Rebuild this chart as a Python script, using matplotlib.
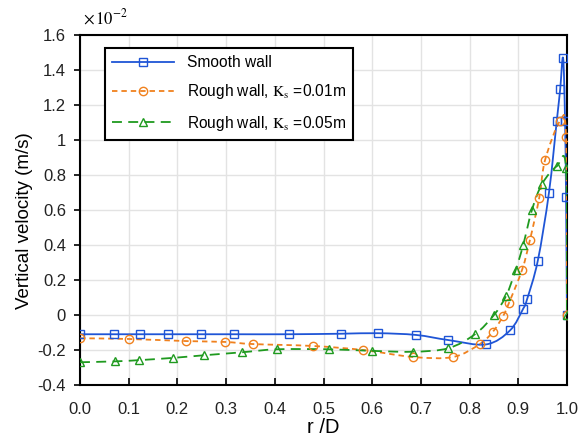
import matplotlib
matplotlib.use('Agg')
import matplotlib.pyplot as plt
import numpy as np
from matplotlib.path import Path
from matplotlib.patches import PathPatch
from matplotlib.lines import Line2D

plt.rcParams['font.family'] = ['Liberation Sans', 'DejaVu Sans']
plt.rcParams['mathtext.fontset'] = 'stix'

# r/D and vertical velocity (x 1e-2 m/s)
r_smooth = [0.0, 0.070, 0.123, 0.181, 0.248, 0.316, 0.429, 0.536, 0.612, 0.690,
            0.756, 0.834, 0.883, 0.910, 0.918, 0.940, 0.963, 0.979, 0.986, 0.992,
            0.996, 0.998, 1.0]
v_smooth = [-0.11, -0.11, -0.11, -0.11, -0.11, -0.11, -0.11, -0.107, -0.104, -0.114,
            -0.143, -0.168, -0.088, 0.036, 0.09, 0.31, 0.70, 1.11, 1.29, 1.47,
            1.11, 0.675, 0.0]

r_k001 = [0.0, 0.100, 0.218, 0.298, 0.355, 0.478, 0.581, 0.684, 0.766, 0.821,
          0.848, 0.869, 0.881, 0.908, 0.924, 0.943, 0.955, 0.986, 0.998, 1.0]
v_k001 = [-0.133, -0.137, -0.149, -0.154, -0.166, -0.177, -0.20, -0.24, -0.24, -0.166,
          -0.095, -0.005, 0.07, 0.26, 0.43, 0.67, 0.886, 1.11, 1.02, 0.0]

r_k005 = [0.0, 0.072, 0.121, 0.191, 0.255, 0.333, 0.405, 0.511, 0.600, 0.684,
          0.756, 0.811, 0.850, 0.875, 0.895, 0.910, 0.928, 0.949, 0.979, 0.998, 1.0]
v_k005 = [-0.27, -0.265, -0.258, -0.245, -0.23, -0.213, -0.196, -0.196, -0.205, -0.21,
          -0.19, -0.11, 0.0, 0.11, 0.26, 0.40, 0.60, 0.75, 0.85, 0.84, 0.0]

labels = ['Smooth wall',
          r'Rough wall, $\mathrm{K_s}$ =0.01m',
          r'Rough wall, $\mathrm{K_s}$ =0.05m']
colors = ['#1f55d6', '#f0811e', '#1f9a1f']
markers = ['s', 'o', '^']
dashes = [None, (3, 2.2), (5.5, 3.5)]


def smooth_path(x, y):
    # Excel-like smoothed line: Catmull-Rom as cubic bezier segments
    p = np.column_stack([x, y])
    verts = [p[0]]
    codes = [Path.MOVETO]
    n = len(p)
    for i in range(n - 1):
        p0 = p[i - 1] if i > 0 else p[i]
        p3 = p[i + 2] if i + 2 < n else p[i + 1]
        c1 = p[i] + (p[i + 1] - p0) / 6.0
        c2 = p[i + 1] - (p3 - p[i]) / 6.0
        verts += [c1, c2, p[i + 1]]
        codes += [Path.CURVE4] * 3
    return Path(verts, codes)


fig = plt.figure(figsize=(5.85, 4.41), dpi=100)
ax = fig.add_axes([80 / 585, 1 - 385 / 441, 487 / 585, 350 / 441])

series = [(r_smooth, v_smooth), (r_k001, v_k001), (r_k005, v_k005)]
handles = []
for (x, y), c, m, d, lab in zip(series, colors, markers, dashes, labels):
    patch = PathPatch(smooth_path(x, y), facecolor='none', edgecolor=c, lw=1.3, zorder=3)
    if d is not None:
        patch.set_linestyle((0, d))
    ax.add_patch(patch)
    ax.plot(x, y, ls='none', marker=m, ms=6, mfc='none', mec=c, mew=1.0, zorder=4)
    h = Line2D([], [], color=c, lw=1.3, marker=m, ms=6, mfc='none', mec=c, mew=1.0)
    if d is not None:
        h.set_dashes(d)
    handles.append(h)

ax.set_xlim(0, 1.0)
ax.set_ylim(-0.4, 1.6)
ax.set_xticks(np.arange(0, 1.01, 0.1))
ax.set_xticklabels(['%.1f' % t for t in np.arange(0, 1.01, 0.1)])
yt = np.round(np.arange(-0.4, 1.61, 0.2), 1)
ax.set_yticks(yt)
ax.set_yticklabels(['%g' % t for t in yt])
ax.grid(True, color='#e3e3e3', lw=1.0)
ax.set_axisbelow(True)

for s in ax.spines.values():
    s.set_color('black')
    s.set_linewidth(1.5)

ax.tick_params(axis='x', direction='in', length=5, width=1.2, pad=12, labelsize=12,
               colors='black', labelcolor='#222222')
ax.tick_params(axis='y', direction='out', length=4, width=1.2, pad=6, labelsize=12,
               labelcolor='#222222')

ax.set_xlabel('r /D', fontsize=14.5, labelpad=1)
ax.set_ylabel('Vertical velocity (m/s)', fontsize=13.5)
ax.yaxis.set_label_coords(-0.097, 0.47)

fig.text(83 / 585, 1 - 17 / 441, r'$\times\,10^{-2}$', fontsize=12, va='center', ha='left')

leg = ax.legend(handles, labels, loc='upper left', bbox_to_anchor=(0.051, 0.963),
                borderaxespad=0, fontsize=11.2, handlelength=4.0, labelspacing=0.8,
                fancybox=False, framealpha=1, edgecolor='black', borderpad=0.45)
leg.get_frame().set_linewidth(1.5)

fig.savefig('out.png', dpi=100)
